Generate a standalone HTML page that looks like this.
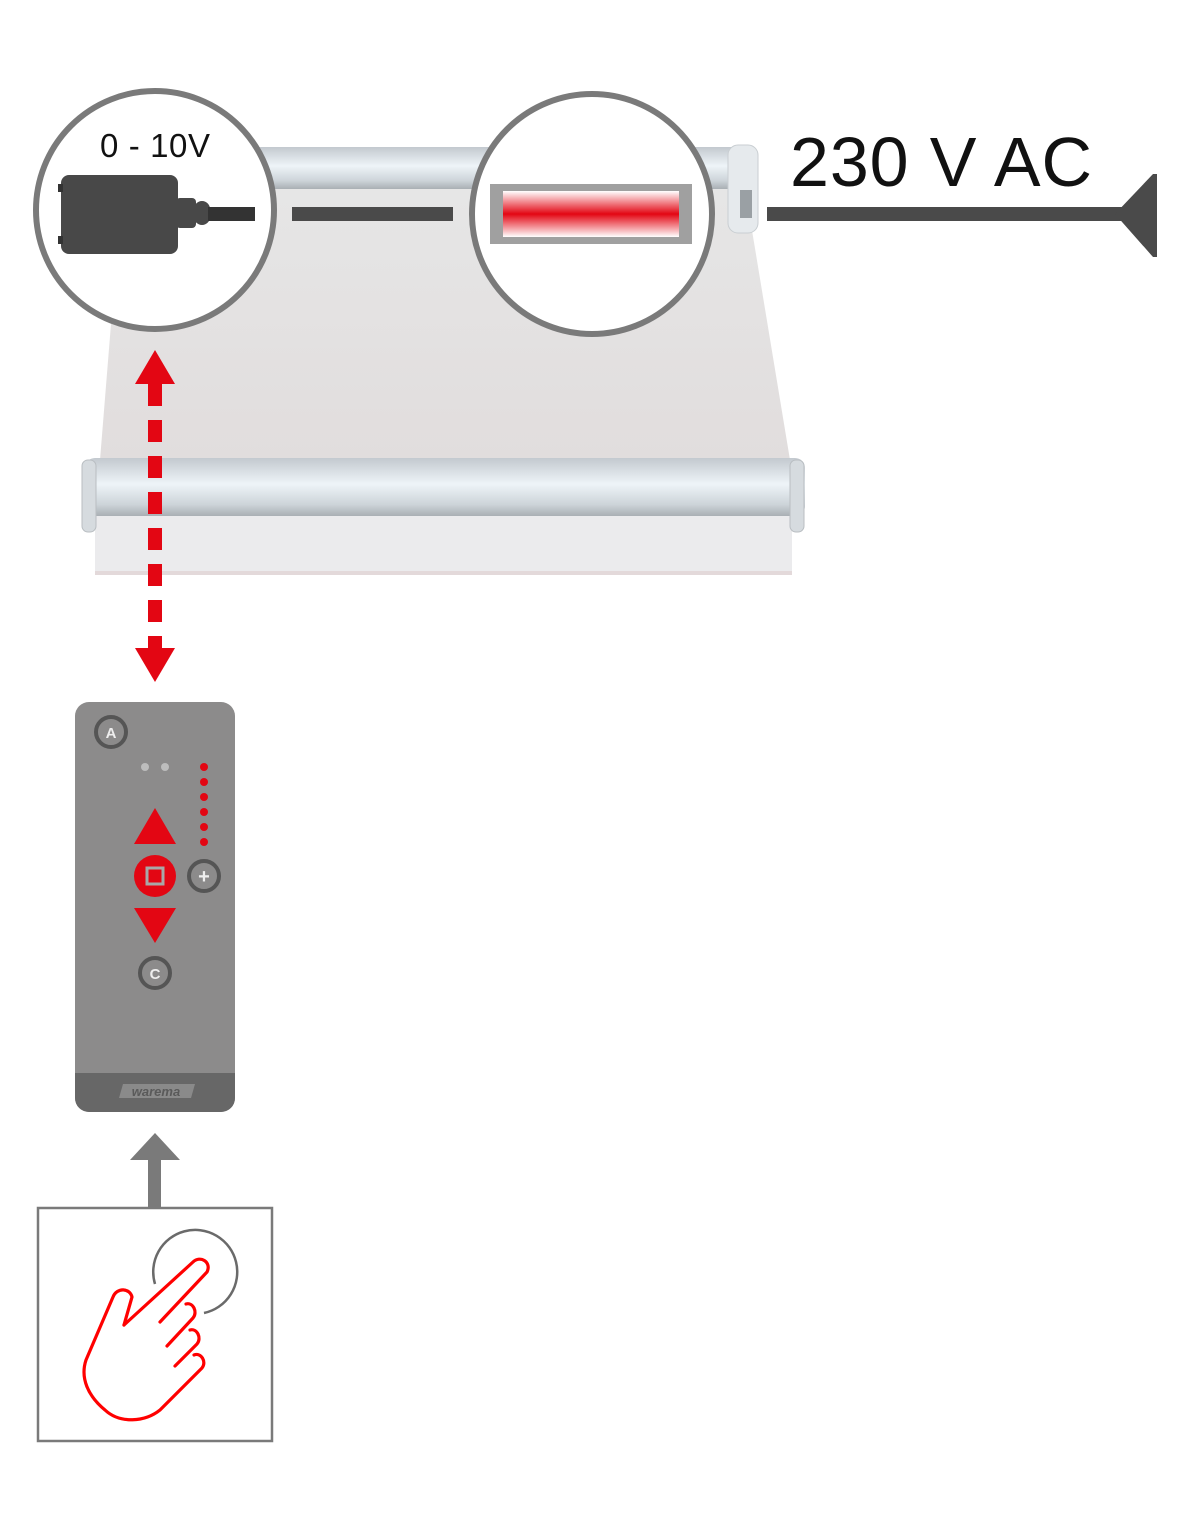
<!DOCTYPE html>
<html><head><meta charset="utf-8"><style>html,body{margin:0;padding:0;background:#fff}svg{display:block}</style></head><body>
<svg width="1193" height="1534" viewBox="0 0 1193 1534" xmlns="http://www.w3.org/2000/svg">
<defs>
<linearGradient id="rl" x1="0" y1="0" x2="0" y2="1">
<stop offset="0" stop-color="#c3c9cf"/><stop offset="0.45" stop-color="#eef4f8"/><stop offset="0.8" stop-color="#cdd4d9"/><stop offset="1" stop-color="#a9afb4"/></linearGradient>
<linearGradient id="fab" x1="0" y1="0" x2="0" y2="1"><stop offset="0" stop-color="#e6e6e6"/><stop offset="1" stop-color="#e1dddd"/></linearGradient>
<linearGradient id="red" x1="0" y1="0" x2="0" y2="1"><stop offset="0" stop-color="#fff"/><stop offset="0.5" stop-color="#e30613"/><stop offset="1" stop-color="#fff"/></linearGradient>
</defs>
<polygon points="122,188 745,188 790,460 100,460" fill="url(#fab)"/>
<rect x="95" y="515" width="697" height="60" fill="#ebebed"/>
<rect x="95" y="571" width="697" height="4" fill="#e3d9da"/>
<rect x="255" y="147" width="490" height="42" fill="url(#rl)"/>
<rect x="728" y="145" width="30" height="88" rx="10" fill="#e6eaed" stroke="#c9ced2"/>
<rect x="740" y="190" width="12" height="28" fill="#9aa0a4"/>
<rect x="85" y="458" width="720" height="58" rx="10" fill="url(#rl)"/>
<rect x="82" y="460" width="14" height="72" rx="6" fill="#d6dbdf" stroke="#b9bec2"/>
<rect x="790" y="460" width="14" height="72" rx="6" fill="#d6dbdf" stroke="#b9bec2"/>
<circle cx="155" cy="210" r="119" fill="#fff" stroke="#7a7a7a" stroke-width="6"/>
<circle cx="592" cy="214" r="120" fill="#fff" stroke="#7a7a7a" stroke-width="6"/>
<text x="155" y="157" font-family="Liberation Sans, sans-serif" font-size="33" text-anchor="middle" fill="#111" textLength="110">0 - 10V</text>
<rect x="61" y="175" width="117" height="79" rx="8" fill="#484848"/>
<rect x="58" y="184" width="5" height="8" fill="#333"/><rect x="58" y="236" width="5" height="8" fill="#333"/>
<rect x="176" y="198" width="20" height="30" rx="4" fill="#484848"/>
<rect x="194" y="201" width="16" height="24" rx="8" fill="#484848"/>
<rect x="208" y="207" width="47" height="14" fill="#333"/>
<rect x="292" y="207" width="161" height="14" fill="#4a4a4a"/>
<rect x="490" y="184" width="202" height="60" fill="#a0a0a0"/>
<rect x="503" y="191" width="176" height="46" fill="url(#red)"/>
<rect x="767" y="207" width="360" height="14" fill="#4a4a4a"/>
<polygon points="1115,214 1153,174 1157,174 1157,257 1153,257" fill="#4a4a4a"/>
<text x="790" y="186" font-family="Liberation Sans, sans-serif" font-size="70" fill="#111" textLength="302">230 V AC</text>
<polygon points="155,350 135,384 175,384" fill="#e30613"/>
<line x1="155" y1="384" x2="155" y2="648" stroke="#e30613" stroke-width="14" stroke-dasharray="22,14"/>
<polygon points="155,682 135,648 175,648" fill="#e30613"/>
<rect x="75" y="702" width="160" height="410" rx="14" fill="#8c8b8b"/>
<path d="M75,1073 H235 V1098 a14,14 0 0 1 -14,14 H89 a14,14 0 0 1 -14,-14 Z" fill="#676767"/>
<polygon points="123,1084 195,1084 191,1098 119,1098" fill="#8a8a8a"/>
<text x="156" y="1096" font-family="Liberation Sans, sans-serif" font-size="13" font-style="italic" font-weight="bold" fill="#5a5a5a" text-anchor="middle">warema</text>
<circle cx="111" cy="732" r="15" fill="#8c8b8b" stroke="#555" stroke-width="4"/>
<text x="111" y="738" font-family="Liberation Sans, sans-serif" font-size="15" font-weight="bold" fill="#eee" text-anchor="middle">A</text>
<circle cx="145" cy="767" r="4" fill="#bdbdbd"/><circle cx="165" cy="767" r="4" fill="#bdbdbd"/>
<g fill="#e30613"><circle cx="204" cy="767" r="4"/><circle cx="204" cy="782" r="4"/><circle cx="204" cy="797" r="4"/><circle cx="204" cy="812" r="4"/><circle cx="204" cy="827" r="4"/><circle cx="204" cy="842" r="4"/></g>
<polygon points="155,808 134,844 176,844" fill="#e30613"/>
<circle cx="155" cy="876" r="21" fill="#e30613"/>
<rect x="147" y="868" width="16" height="16" fill="none" stroke="#a8a8a8" stroke-width="3"/>
<circle cx="204" cy="876" r="15" fill="#8c8b8b" stroke="#555" stroke-width="4"/>
<text x="204" y="883" font-family="Liberation Sans, sans-serif" font-size="20" font-weight="bold" fill="#eee" text-anchor="middle">+</text>
<polygon points="134,908 176,908 155,943" fill="#e30613"/>
<circle cx="155" cy="973" r="15" fill="#8c8b8b" stroke="#555" stroke-width="4"/>
<text x="155" y="979" font-family="Liberation Sans, sans-serif" font-size="15" font-weight="bold" fill="#eee" text-anchor="middle">C</text>
<polygon points="155,1133 130,1160 180,1160" fill="#7a7a7a"/>
<rect x="148" y="1158" width="13" height="50" fill="#7a7a7a"/>
<rect x="38" y="1208" width="234" height="233" fill="#fff" stroke="#7a7a7a" stroke-width="2.5"/>
<path d="M155,1284 A42,42 0 1 1 204,1313" fill="none" stroke="#6a6a6a" stroke-width="2.5"/>
<g fill="none" stroke="#f00" stroke-width="3.2" stroke-linecap="round" stroke-linejoin="round">
<path d="M124,1325 L193,1262 C200,1255 212,1262 207,1272 L160,1322"/>
<path d="M186,1304 C193,1302 198,1312 193,1318 L167,1346"/>
<path d="M190,1330 C197,1328 202,1338 197,1344 L175,1366"/>
<path d="M194,1355 C201,1352 207,1362 202,1368 L160,1410 C145,1422 120,1424 105,1410 C88,1396 80,1378 86,1360 L113,1297 C117,1287 130,1288 132,1297 L124,1325"/>
</g>
</svg>
</body></html>
